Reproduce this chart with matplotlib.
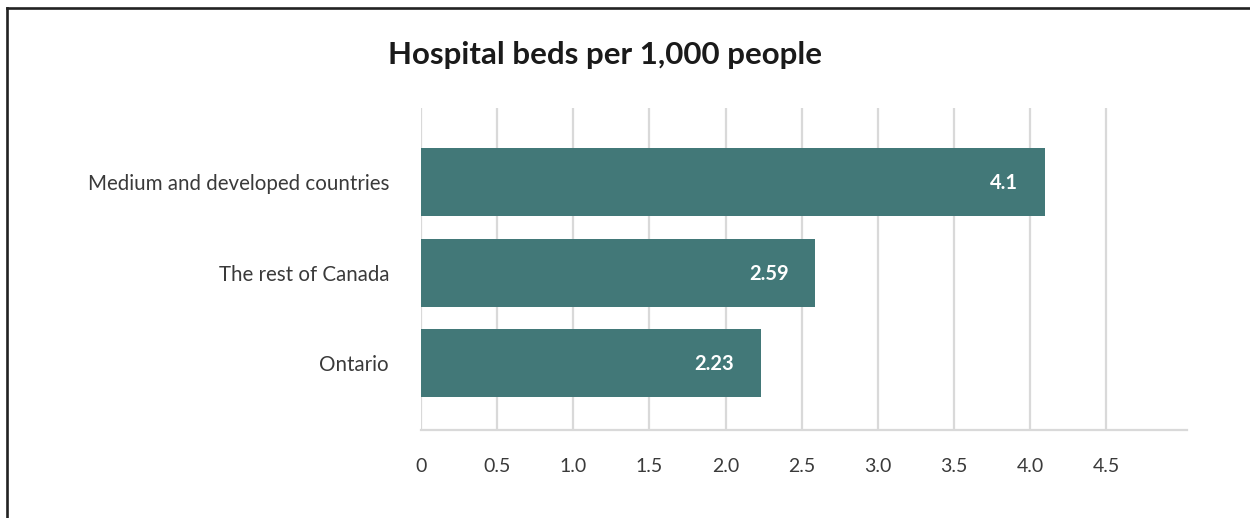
import matplotlib.pyplot as plt
from matplotlib.lines import Line2D

# Chart data
categories = ['Ontario', 'The rest of Canada', 'Medium and developed countries']
beds = [2.23, 2.59, 4.1]
bar_labels = ['2.23', '2.59', '4.1']
xticks = [0, 0.5, 1.0, 1.5, 2.0, 2.5, 3.0, 3.5, 4.0, 4.5]
xtick_labels = ['0', '0.5', '1.0', '1.5', '2.0', '2.5', '3.0', '3.5', '4.0', '4.5']

bar_color = '#427878'
grid_color = '#d9d9d9'
text_color = '#3a3a3a'

plt.rcParams['font.family'] = ['Lato', 'DejaVu Sans']

W, H = 1250, 518
fig = plt.figure(figsize=(W / 100, H / 100), dpi=100)
ax = fig.add_axes([421 / W, 1 - 430 / H, (1187 - 421) / W, (430 - 108) / H])

ypos = list(range(len(categories)))
ax.barh(ypos, beds, height=0.75, color=bar_color, zorder=3)

# value labels inside the bar ends
for y, v, lab in zip(ypos, beds, bar_labels):
    ax.annotate(lab, xy=(v, y), xytext=(-27, -1), textcoords='offset pixels',
                ha='right', va='center', color='white', fontsize=14.5,
                fontweight='bold', zorder=4)

ax.set_xlim(0, 5.03)
ax.set_ylim(-0.74, 2.82)
ax.set_xticks(xticks)
ax.set_xticklabels(xtick_labels)
ax.set_yticks(ypos)
ax.set_yticklabels(categories)
ax.tick_params(axis='x', length=0, pad=20, labelsize=14, labelcolor=text_color)
ax.tick_params(axis='y', length=0, pad=23, labelsize=14.8, labelcolor=text_color)

ax.grid(axis='x', color=grid_color, linewidth=1.6, zorder=0)
ax.grid(axis='y', visible=False)
for side in ['top', 'right', 'left']:
    ax.spines[side].set_visible(False)
ax.spines['bottom'].set_color(grid_color)
ax.spines['bottom'].set_linewidth(1.6)

fig.text(605 / W, 1 - 55 / H, 'Hospital beds per 1,000 people', ha='center',
         va='center', fontsize=22.5, fontweight='bold', color='#1a1a1a')

# frame lines on the left and top edges
fig.add_artist(Line2D([7 / W, 7 / W], [0, 1 - 8 / H], color='#222222', linewidth=1.9))
fig.add_artist(Line2D([7 / W, 1], [1 - 8 / H, 1 - 8 / H], color='#222222', linewidth=1.9))

fig.savefig('out.png', dpi=100)
